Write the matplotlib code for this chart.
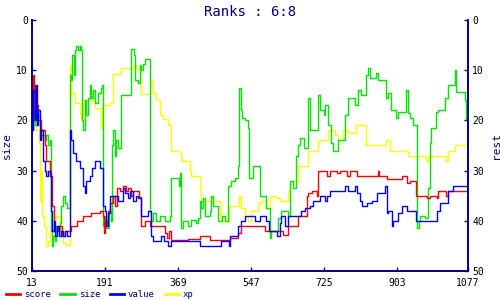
import matplotlib
matplotlib.use('Agg')
import matplotlib.pyplot as plt

navy = '#000080'

# score (red)
score_x = [13, 15, 18, 20, 23, 28, 35, 44, 47, 52, 57, 59, 62, 67, 76, 86, 94, 101, 108, 123, 137, 157, 179, 186, 189, 191, 196, 198, 203, 211, 216, 221, 228, 235, 242, 247, 255, 260, 274,
           279, 289, 301, 325, 338, 343, 347, 352, 394, 423, 447, 496, 516, 523,
           545, 582, 625, 638, 662, 684, 686, 696, 708, 711, 733, 740, 757, 765, 782, 789, 806, 857, 860, 879, 916, 928, 935, 950, 977, 984, 1001, 1004, 1023, 1028]
score_y = [15, 11, 19, 13, 17, 20, 22, 25, 28, 28, 30, 31, 37, 42, 41, 43, 42, 42, 41, 40, 39, 38.5, 38, 39, 42.5, 40, 41, 38, 36.5, 35, 37, 33.5, 34, 33, 34, 33.5, 35, 34, 35.3,
           41, 40, 41, 41, 42.5, 43.5, 42, 43.8, 43.6, 43, 43.8, 43.5, 42.5, 41,
           41, 42, 42.8, 41, 39, 35, 34.5, 34, 35, 30, 31, 30, 30.5, 30, 31, 30, 31, 30, 31, 31.7, 31, 32.5, 32, 35, 35.5, 35, 35.5, 34, 35, 34]

# size (green)
size_x = [13, 15, 18, 20, 25, 32, 35, 44, 47, 52, 57, 59, 60, 62, 64, 69, 72, 76, 81, 84, 89, 94, 98, 106, 108, 111, 115, 118, 121, 125, 130, 132, 135, 137, 142, 145, 150, 154, 157, 162, 167, 174, 181, 184,
          186, 191, 194, 201, 206, 208, 211, 216, 218, 223, 230, 255, 262, 264, 272, 277, 279, 284, 289,
          301, 303, 308, 315, 325, 338, 350, 352, 372, 374, 377, 381, 394, 401, 413, 418, 423, 425, 430, 435, 447, 450, 455, 467, 477, 484, 491, 499, 508, 516, 518, 523, 525, 533, 540,
          542, 552, 569, 584, 594, 596, 613, 621, 638, 643, 650, 657, 662, 667, 677, 686, 691, 711, 716, 725, 728, 735, 743, 747, 760, 777, 784, 801, 808,
          816, 828, 833, 838, 852, 857, 877, 882, 889, 901, 906, 926, 930, 935, 943, 952, 957, 960, 972, 979, 984, 986, 999, 1004, 1021, 1028, 1045, 1048, 1070, 1072]
size_y = [14, 20, 16, 21, 19, 21, 23, 24, 23, 25, 24, 30, 42, 45, 43, 44, 41, 42, 40.5, 37, 35, 36.5, 37.5, 11, 12, 7, 11, 6, 5.2, 6, 5.2, 6, 20, 22, 16, 19, 15.5, 13, 15.5, 14, 16.5, 14.5, 13.5, 13,
          41, 39, 41.5, 38, 40, 25, 22, 27, 24, 25.5, 15, 5.7, 7, 12, 12.5, 9, 10, 8.7, 7.7,
          38, 40, 38.5, 40, 39, 40, 39, 31.5, 33, 30.5, 41.5, 40, 41, 39.8, 40.5, 39.5, 36, 37.5, 35.5, 39, 38, 35, 37, 40, 39, 40, 33, 32, 31.5, 29, 13.5, 18, 19.5, 20, 21.5,
          31.5, 29, 35, 37.5, 43.5, 42, 39.5, 38, 39, 32, 33.5, 27, 25, 23.5, 25.5, 15.5, 22, 15, 18, 19, 17, 21, 24.5, 26, 24, 19, 15.5, 17, 14,
          15, 11, 9.5, 11.6, 10.5, 12, 15.5, 14.5, 18, 19.5, 18.4, 14, 18.5, 19.5, 21, 41.5, 40, 39, 39.5, 33.5, 24.5, 21.5, 18.3, 18, 15.5, 13, 10, 14.3, 16, 20]

# value (blue)
value_x = [13, 15, 16, 20, 22, 25, 28, 32, 35, 40, 44, 47, 52, 57, 59, 62, 67, 69, 74, 79, 84, 89, 94, 98, 106, 108, 113, 121, 130, 137, 142, 145, 154, 159, 167, 179, 186, 191, 194, 198, 203, 223, 235, 240, 247, 252, 260, 267,
           272, 279, 296, 303, 308, 328, 335, 345, 352, 423, 474, 494, 496, 516, 523, 533,
           540, 557, 569, 584, 591, 596, 611, 618, 621, 630, 638, 670, 679, 691, 699, 716, 728, 733, 740, 777, 784, 801, 806, 813, 818, 830, 843, 855, 874, 879, 882, 891, 894, 906, 916, 928, 950, 1001, 1009, 1028, 1040]
value_y = [18, 22, 14, 20, 13, 21, 18, 24, 22, 28, 30, 31, 30, 31, 38, 42, 40, 43, 41, 43, 42, 43, 42, 43, 22, 24, 26.5, 28, 29.5, 33, 34.5, 32, 31, 29.5, 28, 29.5, 37, 38, 41, 38.5, 35, 36, 33.5, 34.5, 35.5, 34, 36, 35,
           35.5, 39, 38, 43, 44, 43, 44, 45, 44, 45, 44, 45, 43, 41, 40, 39,
           39, 40, 39, 40, 42, 42, 43, 40.5, 39, 41, 39, 38, 37.5, 37, 36, 35, 36, 35, 34, 33, 34, 33, 34.5, 36, 37, 36.5, 36, 34.5, 33, 38.5, 38, 41, 40, 38.5, 37, 38, 40, 38, 36.5, 34, 33]

# xp (yellow)
xp_x = [13, 15, 18, 23, 30, 33, 35, 37, 42, 47, 52, 57, 62, 67, 72, 81, 89, 96, 106, 108, 118, 130, 132, 137, 167, 181, 184, 203, 211, 230, 240, 260, 267,
        277, 279, 301, 308, 315, 325, 333, 345, 352, 374, 377, 379, 399, 401, 423, 425, 472, 474, 494, 518, 523, 533,
        540, 547, 564, 572, 584, 594, 608, 618, 638, 643, 662, 686, 711, 735, 752, 760, 772, 784, 804, 828, 877, 887, 930, 974, 979, 1023, 1028, 1045]
xp_y = [16, 19, 20, 22, 24.5, 36, 30, 39, 41, 45, 44, 42, 38, 40, 39, 41.5, 44.5, 44.8, 9, 14.5, 16.5, 18.5, 20, 16, 17.5, 21.5, 17, 16.5, 10.8, 9.6, 9.5, 9, 9.5,
        13, 14.8, 12, 14.5, 16, 19, 19.7, 21, 26, 26.5, 27.5, 28, 30, 31, 34, 36, 38, 40, 37, 35, 37.5, 39,
        40, 38, 36.5, 36, 37.5, 35, 35.5, 36, 34, 32, 29, 26, 24, 22, 23, 24, 22, 22.5, 21, 25, 24, 26, 27, 28, 27, 28, 26, 25]

xticks = [13, 191, 369, 547, 725, 903, 1077]
yticks = [0, 10, 20, 30, 40, 50]
x_end = 1077

font = 'DejaVu Sans Mono'
plt.rcParams['font.family'] = font

fig = plt.figure(figsize=(5, 3), dpi=100)
ax = fig.add_axes([0.064, 0.0967, 0.872, 0.8367])

def draw(xs, ys, color, label):
    xs = xs + [x_end]
    ys = ys + [ys[-1]]
    return ax.step(xs, ys, where='post', color=color, lw=1.0, label=label)[0]

h_xp = draw(xp_x, xp_y, '#ffff00', 'xp')
h_size = draw(size_x, size_y, '#00e600', 'size')
h_score = draw(score_x, score_y, '#ff0000', 'score')
h_value = draw(value_x, value_y, '#0000ff', 'value')

ax.set_xlim(13, 1077)
ax.set_ylim(50, 0)
ax.set_xticks(xticks)
ax.set_yticks(yticks)
ax.tick_params(direction='in', length=3, width=1, color=navy, labelsize=7, labelcolor='black', pad=3)
ax.tick_params(axis='x', pad=5)
for s in ax.spines.values():
    s.set_color(navy)
    s.set_linewidth(1.2)
ax.spines['top'].set_visible(False)
ax.set_ylabel('size', color=navy, fontsize=8, labelpad=3)

ax2 = ax.twinx()
ax2.set_ylim(50, 0)
ax2.set_yticks(yticks)
ax2.tick_params(direction='in', length=3, width=1, color=navy, labelsize=7, labelcolor='black', pad=3)
for s in ax2.spines.values():
    s.set_color(navy)
    s.set_linewidth(1.2)
ax2.spines['top'].set_visible(False)
ax2.set_ylabel('rest', color=navy, fontsize=8, labelpad=5)

fig.text(0.5, 0.96, 'Ranks : 6:8', color=navy, fontsize=10, ha='center', va='center')

leg = fig.legend(handles=[h_score, h_size, h_value, h_xp], loc='lower left', bbox_to_anchor=(-0.005, -0.025),
                 ncol=4, frameon=False, fontsize=6.5, handlelength=1.6, handletextpad=0.4, columnspacing=1.1)
for t in leg.get_texts():
    t.set_color(navy)
for l in leg.get_lines():
    l.set_linewidth(2)

fig.savefig('out.png', dpi=100)
